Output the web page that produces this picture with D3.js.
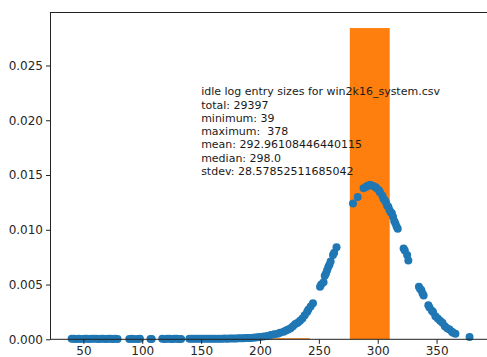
<!DOCTYPE html>
<html>
<head>
<meta charset="utf-8">
<script src="https://cdn.jsdelivr.net/npm/d3@7"></script>
<style>
  body { margin: 0; background: #fff; }
  svg { display: block; }
  text { font-family: "DejaVu Sans", sans-serif; }
</style>
</head>
<body>
<div id="chart"></div>
<script>
// scatter: entry size -> density
const sizes = [
  40, 42, 44, 46, 48, 51, 53, 55, 57, 59, 61, 63, 65, 67, 69, 71, 73, 75, 77, 79,
  89, 91, 93, 96, 98, 107, 108,
  117, 119, 121, 123, 125, 127, 129, 131, 133,
  140, 142, 144, 146, 148, 150, 152, 154, 156, 158, 160, 162, 164, 166, 168, 170,
  172, 174, 176, 178, 180, 182, 184, 186, 188, 190, 192, 194, 196, 198,
  200, 203, 206, 209, 212, 215, 217, 220, 222, 224, 226, 228, 230, 232, 234, 236,
  238, 240, 241, 243, 245, 251, 252, 254, 255, 256, 257, 258, 259, 260, 262, 263, 265,
  279, 283, 288, 290, 291, 293, 294, 296, 298, 299, 301, 302, 304, 305, 306, 307,
  308, 309, 310, 311, 312, 313, 314, 315, 316, 317,
  322, 323, 325, 326,
  335, 336, 337, 338, 339, 343, 344, 346, 347, 349, 351, 353, 355, 357, 359, 361,
  363, 364, 366, 378
];
const density = [
  0.00004, 0.00004, 0.00003, 0.00004, 0.00003, 0.00004, 0.00004, 0.00003, 0.00004, 0.00004,
  0.00004, 0.00003, 0.00004, 0.00004, 0.00003, 0.00004, 0.00004, 0.00003, 0.00004, 0.00003,
  0.00003, 0.00004, 0.00003, 0.00003, 0.00004, 0.00003, 0.00003,
  0.00004, 0.00003, 0.00004, 0.00004, 0.00003, 0.00004, 0.00004, 0.00003, 0.00003,
  0.00004, 0.00004, 0.00005, 0.00004, 0.00005, 0.00005, 0.00004, 0.00005, 0.00005, 0.00006,
  0.00005, 0.00006, 0.00006, 0.00005, 0.00006, 0.00007, 0.00006, 0.00007, 0.00007, 0.00008,
  0.00008, 0.00009, 0.0001, 0.0001, 0.00011, 0.00012, 0.00013, 0.00014, 0.00016, 0.00018,
  0.0002, 0.00025, 0.0003, 0.0004, 0.00046, 0.0005, 0.0006, 0.0007, 0.0008, 0.0009,
  0.001, 0.0012, 0.0014, 0.0015, 0.0017, 0.0019, 0.0022, 0.0025, 0.0027, 0.003, 0.0033,
  0.0048, 0.005, 0.0052, 0.0058, 0.006, 0.0063, 0.0066, 0.0068, 0.0071, 0.0077, 0.0079, 0.0084,
  0.0124, 0.0130, 0.0138, 0.0139, 0.0140, 0.0141, 0.0141, 0.0140, 0.0139, 0.0138, 0.0136,
  0.0134, 0.0131, 0.0128, 0.0127, 0.0125, 0.0122, 0.0121, 0.0118, 0.0116, 0.0115, 0.0112,
  0.0108, 0.0106, 0.0103, 0.0101,
  0.0083, 0.0081, 0.0077, 0.0072,
  0.0048, 0.0046, 0.0045, 0.0042, 0.004, 0.0031, 0.0029, 0.0026, 0.0025, 0.0021, 0.0019,
  0.0017, 0.0015, 0.0012, 0.001, 0.0009, 0.0007, 0.0006, 0.0005, 0.0002
];

// histogram (10 bins between min and max)
const binEdges = [39, 72.9, 106.8, 140.7, 174.6, 208.5, 242.4, 276.3, 310.2, 344.1, 378];
const binHeights = [0, 0, 0, 0, 0, 0.0001, 0, 0.02842, 0, 0];

const xTicks = [50, 100, 150, 200, 250, 300, 350];
const yTicks = [0, 0.005, 0.010, 0.015, 0.020, 0.025];

const infoLines = [
  'idle log entry sizes for win2k16_system.csv',
  'total: 29397',
  'minimum: 39',
  'maximum:  378',
  'mean: 292.96108446440115',
  'median: 298.0',
  'stdev: 28.57852511685042'
];

const W = 487, H = 357;
const svg = d3.select('#chart').append('svg')
    .attr('width', W)
    .attr('height', H);

const x = d3.scaleLinear().domain([22.05, 394.95]).range([50.5, 489.5]);
const y = d3.scaleLinear().domain([0, 0.02984]).range([339.3, 12.5]);

// bars
svg.append('g')
  .selectAll('rect')
  .data(binHeights)
  .enter()
  .append('rect')
  .attr('x', (d, i) => x(binEdges[i]))
  .attr('width', (d, i) => x(binEdges[i + 1]) - x(binEdges[i]))
  .attr('y', d => y(d))
  .attr('height', d => y(0) - y(d))
  .attr('fill', '#ff7f0e');

// dots
svg.append('g')
  .selectAll('circle')
  .data(sizes)
  .enter()
  .append('circle')
  .attr('cx', d => x(d))
  .attr('cy', (d, i) => y(density[i]))
  .attr('r', 4)
  .attr('fill', '#1f77b4');

// info text
const info = svg.append('text')
    .attr('font-size', '11px')
    .attr('fill', '#1a1a1a')
    .style('white-space', 'pre');
info.selectAll('tspan')
  .data(infoLines)
  .enter()
  .append('tspan')
  .attr('x', x(150))
  .attr('y', (d, i) => y(0.015) - (infoLines.length - 1 - i) * 13.3)
  .text(d => d);

// axes
const xAxis = d3.axisBottom(x).tickValues(xTicks).tickSize(4.5).tickPadding(3)
    .tickFormat(d3.format('d'));
const gx = svg.append('g')
    .attr('transform', 'translate(0,' + y(0) + ')')
    .call(xAxis);
gx.select('.domain').remove();

const yAxis = d3.axisLeft(y).tickValues(yTicks).tickSize(4.5).tickPadding(3)
    .tickFormat(d3.format('.3f'));
const gy = svg.append('g')
    .attr('transform', 'translate(' + x(22.05) + ',0)')
    .call(yAxis);
gy.select('.domain').remove();

svg.selectAll('.tick text').attr('font-size', '12px').attr('fill', '#262626')
    .attr('font-family', '"DejaVu Sans", sans-serif');
svg.selectAll('.tick line').attr('stroke', '#222');

// spines
svg.append('rect')
  .attr('x', x(22.05))
  .attr('y', y(0.02984))
  .attr('width', x(394.95) - x(22.05))
  .attr('height', y(0) - y(0.02984))
  .attr('fill', 'none')
  .attr('stroke', '#222')
  .attr('stroke-width', 1);
</script>
</body>
</html>
